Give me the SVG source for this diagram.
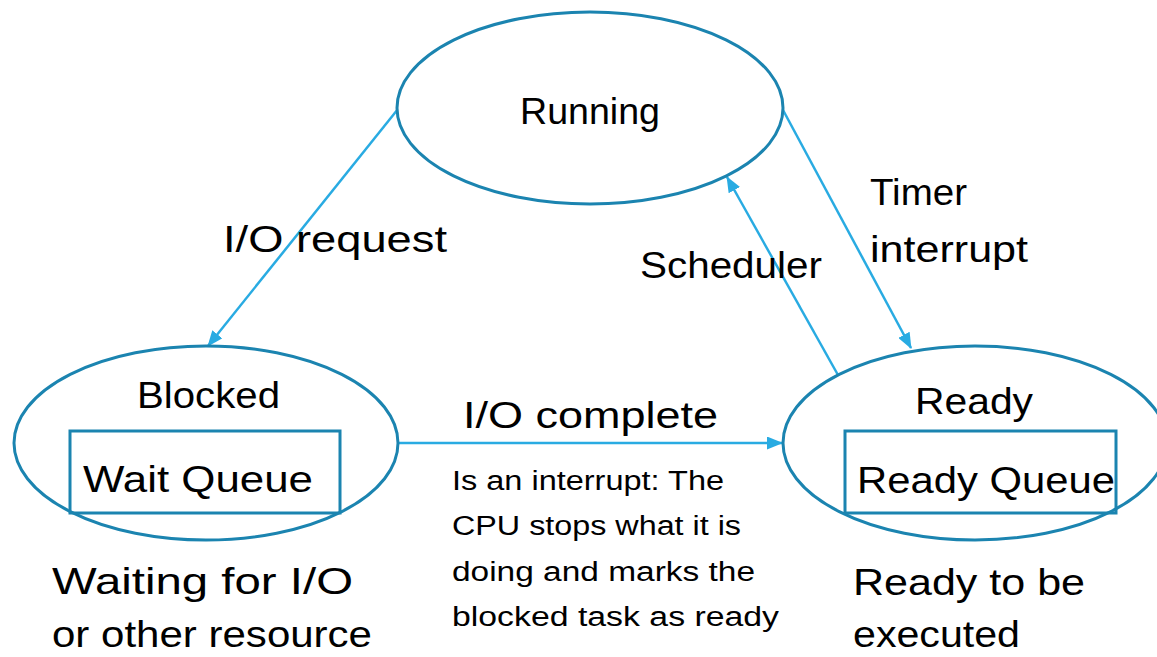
<svg xmlns="http://www.w3.org/2000/svg" width="1157" height="657" viewBox="0 0 1157 657">
<style>
.st{fill:#fff;stroke:#1b84b0;stroke-width:3}
.bx{fill:none;stroke:#1b84b0;stroke-width:3}
.ln{stroke:#29abe2;stroke-width:2.5;fill:none;marker-end:url(#ah)}
text{font-family:"Liberation Sans",Arial,sans-serif;fill:#000}
.L{font-size:37px}
.S{font-size:27px}
</style>
<defs>
<marker id="ah" viewBox="0 0 16 13" refX="15" refY="6.5" markerWidth="16" markerHeight="13" markerUnits="userSpaceOnUse" orient="auto">
<path d="M0,0 L16,6.5 L0,13 z" fill="#29abe2"/>
</marker>
</defs>
<rect width="1157" height="657" fill="#fff"/>
<g id="connectors">
<line class="ln" x1="398" y1="109" x2="208" y2="346"/>
<line class="ln" x1="783" y1="110" x2="911" y2="348"/>
<line class="ln" x1="838" y1="375" x2="727" y2="177"/>
<line class="ln" x1="399" y1="443" x2="782" y2="443"/>
</g>
<g id="running">
<ellipse class="st" cx="590" cy="108" rx="193" ry="96"/>
<text class="L" x="590" y="124" text-anchor="middle" textLength="140" lengthAdjust="spacingAndGlyphs">Running</text>
</g>
<g id="blocked">
<ellipse class="st" cx="206" cy="443" rx="192" ry="97"/>
<rect class="bx" x="70" y="431" width="270" height="82"/>
<text class="L" x="137" y="408" textLength="143" lengthAdjust="spacingAndGlyphs">Blocked</text>
<text class="L" x="83" y="492" textLength="230" lengthAdjust="spacingAndGlyphs">Wait Queue</text>
</g>
<g id="ready">
<ellipse class="st" cx="975" cy="443" rx="192" ry="97"/>
<rect class="bx" x="845" y="431" width="271" height="82"/>
<text class="L" x="915" y="414" textLength="118" lengthAdjust="spacingAndGlyphs">Ready</text>
<text class="L" x="857" y="493" textLength="258" lengthAdjust="spacingAndGlyphs">Ready Queue</text>
</g>
<g id="labels">
<text class="L" x="223" y="252" textLength="224" lengthAdjust="spacingAndGlyphs">I/O request</text>
<text class="L" x="870" y="205" textLength="97" lengthAdjust="spacingAndGlyphs">Timer</text>
<text class="L" x="870" y="262" textLength="158" lengthAdjust="spacingAndGlyphs">interrupt</text>
<text class="L" x="640" y="278" textLength="182" lengthAdjust="spacingAndGlyphs">Scheduler</text>
<text class="L" x="463" y="428" textLength="255" lengthAdjust="spacingAndGlyphs">I/O complete</text>
<text class="S" x="452" y="490" textLength="272" lengthAdjust="spacingAndGlyphs">Is an interrupt: The</text>
<text class="S" x="452" y="535" textLength="289" lengthAdjust="spacingAndGlyphs">CPU stops what it is</text>
<text class="S" x="452" y="581" textLength="303" lengthAdjust="spacingAndGlyphs">doing and marks the</text>
<text class="S" x="452" y="626" textLength="327" lengthAdjust="spacingAndGlyphs">blocked task as ready</text>
<text class="L" x="52" y="594" textLength="301" lengthAdjust="spacingAndGlyphs">Waiting for I/O</text>
<text class="L" x="52" y="647" textLength="320" lengthAdjust="spacingAndGlyphs">or other resource</text>
<text class="L" x="853" y="595" textLength="232" lengthAdjust="spacingAndGlyphs">Ready to be</text>
<text class="L" x="853" y="647" textLength="167" lengthAdjust="spacingAndGlyphs">executed</text>
</g>
</svg>
